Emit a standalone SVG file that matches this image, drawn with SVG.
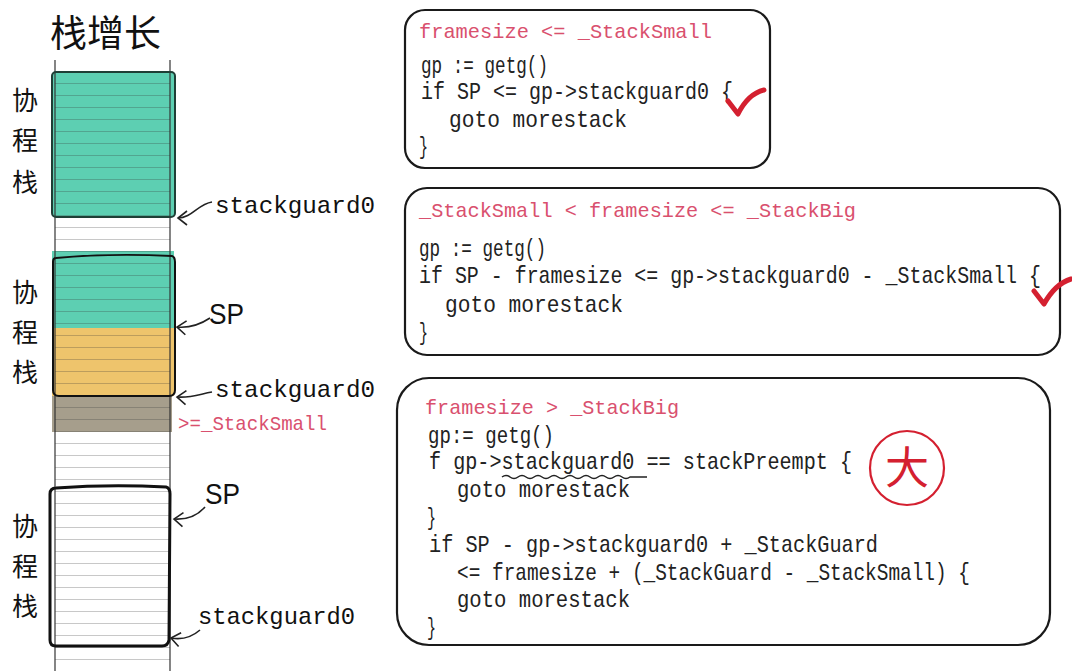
<svg xmlns="http://www.w3.org/2000/svg" width="1072" height="671" viewBox="0 0 1072 671">
<defs>
<style>
.cjk{font-family:"Noto Sans CJK SC",sans-serif;fill:#111}
.hand{font-family:"Liberation Mono",monospace;fill:#111}
.sp{font-family:"Liberation Sans",sans-serif;fill:#111}
.red{font-family:"Liberation Mono",monospace;fill:#d9506e;font-size:21px}
.code{font-family:"Liberation Mono",monospace;fill:#222;font-size:24px}
.box{fill:#fff;stroke:#1a1a1a;stroke-width:2.2}
.conn{fill:none;stroke:#222;stroke-width:1.6}
.row{stroke:#333;stroke-width:1;opacity:0.55}
.check{fill:none;stroke:#d42030;stroke-width:5;stroke-linecap:round;stroke-linejoin:round}
</style>
<marker id="arr" viewBox="-11 -8 13 16" markerWidth="13" markerHeight="16" markerUnits="userSpaceOnUse" refX="0" refY="0" orient="auto">
<path d="M-9,-7 L0,0 L-9,7" fill="none" stroke="#222" stroke-width="1.6"/>
</marker>
<pattern id="rows" x="0" y="11" width="200" height="12" patternUnits="userSpaceOnUse">
<line x1="0" y1="0" x2="200" y2="0" class="row"/>
</pattern>
</defs>
<rect width="1072" height="671" fill="#fff"/>

<g id="title">
<text class="cjk" x="50" y="47" font-size="37">栈增长</text>
</g>

<g id="stack-column">
<rect x="52" y="72" width="123" height="145" rx="3" fill="#5dcfb2"/>
<rect x="52" y="251" width="122" height="77" fill="#5dcfb2"/>
<rect x="52" y="328" width="122" height="68" fill="#eec46c"/>
<rect x="52" y="396" width="120" height="36" fill="#a69e8c"/>
<rect x="55" y="60" width="115" height="611" fill="url(#rows)"/>
<line x1="55" y1="60" x2="55" y2="671" stroke="#333" stroke-width="1.2"/>
<line x1="170" y1="60" x2="170" y2="671" stroke="#333" stroke-width="1.2"/>
</g>

<g id="coroutine-stack-1">
<rect x="52" y="72" width="123" height="145" rx="4" fill="none" stroke="#1f3f36" stroke-width="2"/>
<text class="cjk" font-size="26" x="12" y="110">协</text>
<text class="cjk" font-size="26" x="12" y="150">程</text>
<text class="cjk" font-size="26" x="12" y="192">栈</text>
<text class="hand" font-size="24" x="215" y="213" textLength="160" lengthAdjust="spacingAndGlyphs">stackguard0</text>
</g>

<g id="coroutine-stack-2">
<path d="M56,258 Q110,253 172,256 Q175,257 175,262 L175,390 Q175,396 169,396 L59,396 Q53,396 53,390 L53,262 Q53,258 56,258 Z" fill="none" stroke="#111" stroke-width="2"/>
<text class="cjk" font-size="26" x="12" y="302">协</text>
<text class="cjk" font-size="26" x="12" y="342">程</text>
<text class="cjk" font-size="26" x="12" y="382">栈</text>
<text class="sp" font-size="30" x="209" y="324" textLength="35" lengthAdjust="spacingAndGlyphs">SP</text>
<text class="hand" font-size="24" x="215" y="397" textLength="160" lengthAdjust="spacingAndGlyphs">stackguard0</text>
<text class="red" font-size="18" x="178" y="430" textLength="149" lengthAdjust="spacingAndGlyphs">&gt;=_StackSmall</text>
</g>

<g id="coroutine-stack-3">
<path d="M56,488 Q110,484 166,487 Q170,488 170,494 L169,640 Q168,646 162,646 L56,646 Q50,646 50,640 L50,494 Q50,488 56,488 Z" fill="none" stroke="#111" stroke-width="3"/>
<text class="cjk" font-size="26" x="12" y="536">协</text>
<text class="cjk" font-size="26" x="12" y="576">程</text>
<text class="cjk" font-size="26" x="12" y="616">栈</text>
<text class="sp" font-size="30" x="205" y="504" textLength="35" lengthAdjust="spacingAndGlyphs">SP</text>
<text class="hand" font-size="24" x="198" y="624" textLength="157" lengthAdjust="spacingAndGlyphs">stackguard0</text>
</g>

<g id="connectors">
<path class="conn" d="M212,202 C198,204 192,218 178,218" marker-end="url(#arr)"/>
<path class="conn" d="M210,318 C198,326 188,328 177,327" marker-end="url(#arr)"/>
<path class="conn" d="M212,392 C200,394 192,398 177,397" marker-end="url(#arr)"/>
<path class="conn" d="M205,507 C198,515 188,520 174,519" marker-end="url(#arr)"/>
<path class="conn" d="M200,630 C192,637 182,640 171,638" marker-end="url(#arr)"/>
</g>

<g id="case-small">
<rect class="box" x="405" y="10" width="365" height="158" rx="20"/>
<text class="red" x="419" y="38" textLength="293" lengthAdjust="spacingAndGlyphs">framesize &lt;= _StackSmall</text>
<text class="code" x="421" y="73" textLength="127" lengthAdjust="spacingAndGlyphs">gp := getg()</text>
<text class="code" x="421" y="99" textLength="312" lengthAdjust="spacingAndGlyphs">if SP &lt;= gp-&gt;stackguard0 {</text>
<text class="code" x="449" y="127" textLength="178" lengthAdjust="spacingAndGlyphs">goto morestack</text>
<text class="code" x="419" y="154" textLength="9" lengthAdjust="spacingAndGlyphs">}</text>
<path class="check" d="M728,101 L738,114 Q748,94 764,90"/>
</g>

<g id="case-medium">
<rect class="box" x="405" y="188" width="655" height="167" rx="22"/>
<text class="red" x="419" y="217" textLength="437" lengthAdjust="spacingAndGlyphs">_StackSmall &lt; framesize &lt;= _StackBig</text>
<text class="code" x="419" y="256" textLength="127" lengthAdjust="spacingAndGlyphs">gp := getg()</text>
<text class="code" x="419" y="283" textLength="622" lengthAdjust="spacingAndGlyphs">if SP - framesize &lt;= gp-&gt;stackguard0 - _StackSmall {</text>
<text class="code" x="445" y="312" textLength="178" lengthAdjust="spacingAndGlyphs">goto morestack</text>
<text class="code" x="419" y="340" textLength="9" lengthAdjust="spacingAndGlyphs">}</text>
<path class="check" d="M1034,291 L1044,304 Q1055,284 1071,279"/>
</g>

<g id="case-big">
<rect class="box" x="397" y="378" width="653" height="267" rx="32"/>
<text class="red" x="425" y="414" textLength="254" lengthAdjust="spacingAndGlyphs">framesize &gt; _StackBig</text>
<text class="code" x="428" y="443" textLength="126" lengthAdjust="spacingAndGlyphs">gp:= getg()</text>
<text class="code" x="429" y="469" textLength="423" lengthAdjust="spacingAndGlyphs">f gp-&gt;stackguard0 == stackPreempt {</text>
<path d="M502,477 q4,-3 8,0 t8,0 t8,0 t8,0 t8,0 t8,0 t8,0 t8,0 t8,0 t8,0 t8,0 t8,0 t8,0 t8,0 t8,0 t8,0 L647,477" fill="none" stroke="#222" stroke-width="1.5"/>
<text class="code" x="457" y="497" textLength="173" lengthAdjust="spacingAndGlyphs">goto morestack</text>
<text class="code" x="427" y="525" textLength="9" lengthAdjust="spacingAndGlyphs">}</text>
<text class="code" x="429" y="552" textLength="449" lengthAdjust="spacingAndGlyphs">if SP - gp-&gt;stackguard0 + _StackGuard</text>
<text class="code" x="457" y="580" textLength="513" lengthAdjust="spacingAndGlyphs">&lt;= framesize + (_StackGuard - _StackSmall) {</text>
<text class="code" x="457" y="607" textLength="173" lengthAdjust="spacingAndGlyphs">goto morestack</text>
<text class="code" x="427" y="635" textLength="9" lengthAdjust="spacingAndGlyphs">}</text>
<circle cx="907" cy="468" r="37" fill="none" stroke="#d42030" stroke-width="2.2"/>
<text x="907" y="484" text-anchor="middle" font-size="44" font-family="Noto Sans CJK SC,sans-serif" fill="#d42030">大</text>
</g>
</svg>
